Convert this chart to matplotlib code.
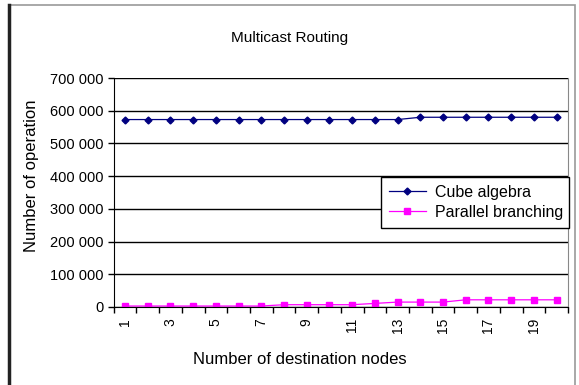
import numpy as np
import matplotlib.pyplot as plt
from matplotlib.patches import Rectangle
from matplotlib.lines import Line2D

plt.rcParams['font.family'] = ['Liberation Sans', 'DejaVu Sans']

# data
nodes = list(range(1, 21))
cube_algebra = [573000] * 13 + [580000] * 7
parallel_branching = [3000] * 7 + [7000] * 4 + [11000] + [15000] * 3 + [22000] * 5
y_ticks = [0, 100000, 200000, 300000, 400000, 500000, 600000, 700000]
y_tick_labels = ['0', '100 000', '200 000', '300 000', '400 000', '500 000', '600 000', '700 000']

W, H = 579, 385
fig = plt.figure(figsize=(W / 100, H / 100), dpi=100)
ax = fig.add_axes([113.7 / W, 1 - 307 / H, (568 - 113.7) / W, (307 - 78) / H])

# outer chart frame
fig.patches.append(Rectangle((9 / W, -0.05), (575 - 9) / W, 1.05 - 5 / H,
                             transform=fig.transFigure, fill=False,
                             edgecolor='#999999', lw=1.2))
fig.lines.append(Line2D([9 / W, 9 / W], [0, 1 - 5 / H], transform=fig.transFigure,
                        color='#222222', lw=2.5))

ax.plot(nodes, cube_algebra, color='#000080', marker='D', markersize=3.5, lw=0.9,
        label='Cube algebra')
ax.plot(nodes, parallel_branching, color='#FF00FF', marker='s', markersize=5, lw=0.9,
        label='Parallel branching')

ax.set_xlim(0.5, 20.5)
ax.set_ylim(0, 700000)
ax.set_yticks(y_ticks)
ax.set_yticklabels(y_tick_labels, fontsize=10.5)
ax.yaxis.grid(True, color='black', lw=1)
ax.set_axisbelow(True)

# ticks on category boundaries, labels on odd categories
ax.set_xticks(np.arange(0.5, 21, 1))
ax.set_xticklabels([])
ax.set_xticks(nodes[::2], minor=True)
ax.set_xticklabels([str(n) for n in nodes[::2]], minor=True, rotation=90, fontsize=10)
ax.tick_params(axis='x', which='minor', length=0, pad=8)
ax.tick_params(axis='both', which='major', direction='out', length=4, width=1, color='black')

for s in ['left', 'bottom']:
    ax.spines[s].set_color('black')
ax.spines['top'].set_visible(False)
ax.spines['right'].set_color('#888888')

fig.text(290 / W, 1 - 38 / H, 'Multicast Routing', ha='center', va='center', fontsize=11)
fig.text(300 / W, 1 - 360 / H, 'Number of destination nodes', ha='center', va='center',
         fontsize=12)
fig.text(32 / W, 1 - 176 / H, 'Number of operation', ha='center', va='center',
         rotation=90, fontsize=12)

leg = ax.legend(loc='upper left',
                bbox_to_anchor=(381 / W, 1 - 241 / H, (569 - 381) / W, 64 / H),
                bbox_transform=fig.transFigure, mode='expand', fontsize=11.5,
                fancybox=False, framealpha=1, edgecolor='black', borderaxespad=0,
                handlelength=2.3, borderpad=0.5, labelspacing=0.3, handletextpad=0.6)
leg.get_frame().set_linewidth(1)

fig.savefig('out.png', dpi=100)
